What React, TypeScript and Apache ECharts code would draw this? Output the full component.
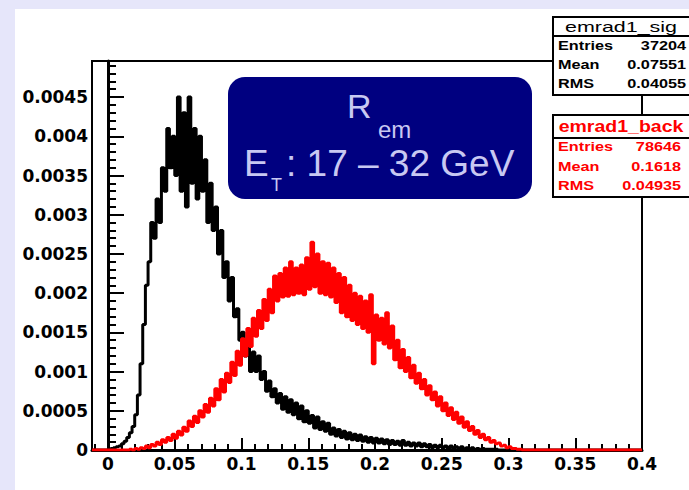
import React, { useEffect, useRef } from "react";
import * as echarts from "echarts";

// ---- histogram binning (left edges of bins) ----
const BIN_START = -0.012;
const BIN_WIDTH = 0.002;
const X_MIN = -0.012;
const X_MAX = 0.4;
const Y_MAX = 0.00496;

// emrad1_sig (black), one value per bin
const sigValues = [
  0, 0, 0, 0, 0, 0, 0.00001, 0.00002, 0.00003, 0.00004,
  0.00005, 0.00008, 0.00011, 0.00016, 0.00022, 0.0003, 0.00045, 0.0007, 0.0011, 0.0016,
  0.0021, 0.0024, 0.0029, 0.0027, 0.0032, 0.0029, 0.0036, 0.0033, 0.0041, 0.0036,
  0.004, 0.0035, 0.0045, 0.0033, 0.0043, 0.0031, 0.0045, 0.0034, 0.0041, 0.0032,
  0.004, 0.0033, 0.0037, 0.0029, 0.0034, 0.0028, 0.0031, 0.0025, 0.0028, 0.0022,
  0.0024, 0.0019, 0.0022, 0.0017, 0.0018, 0.0014, 0.0015, 0.0012, 0.0013, 0.001,
  0.00125, 0.001, 0.0012, 0.0009, 0.001, 0.00075, 0.00088, 0.00068, 0.00078, 0.0006,
  0.00072, 0.00052, 0.00068, 0.00048, 0.00064, 0.00045, 0.0006, 0.0004, 0.00056, 0.00036,
  0.0005, 0.00034, 0.00044, 0.00028, 0.00042, 0.00026, 0.00036, 0.00024, 0.00034, 0.0002,
  0.00028, 0.00018, 0.00026, 0.00016, 0.00024, 0.00014, 0.00022, 0.00013, 0.0002, 0.00012,
  0.00019, 0.00011, 0.00017, 0.0001, 0.00016, 0.00009, 0.00015, 0.00009, 0.00014, 0.00008,
  0.00013, 0.00007, 0.00012, 0.00007, 0.00011, 0.00006, 0.00012, 0.00006, 0.0001, 0.00005,
  0.00009, 0.00005, 0.00009, 0.00004, 0.00008, 0.00004, 0.00007, 0.00003, 0.00006, 0.00003,
  0.00006, 0.00003, 0.00005, 0.00002, 0.00005, 0.00002, 0.00004, 0.00002, 0.00004, 0.00001,
  0.00003, 0.00001, 0.00003, 0.00001, 0.00002, 0.00001, 0.00002, 0.00001, 0.00001, 0.00001,
  0.00001, 0.00001, 0, 0, 0, 0, 0, 0, 0, 0,
  0, 0, 0, 0, 0, 0, 0, 0, 0, 0,
  0, 0, 0, 0, 0, 0, 0, 0, 0, 0,
  0, 0, 0, 0, 0, 0, 0, 0, 0, 0,
  0, 0, 0, 0, 0, 0, 0, 0, 0, 0,
  0, 0, 0, 0, 0, 0,
];

// emrad1_back (red), one value per bin
const backValues = [
  0, 0, 0, 0, 0, 0, 0, 0, 0, 0,
  0, 0, 0, 0, 0.00001, 0, 0.00002, 0.00001, 0.00003, 0.00002,
  0.00005, 0.00003, 0.00007, 0.00005, 0.0001, 0.00007, 0.00013, 0.0001, 0.00016, 0.00012,
  0.0002, 0.00015, 0.00024, 0.00019, 0.00029, 0.00024, 0.00037, 0.0003, 0.00043, 0.00035,
  0.0005, 0.00042, 0.00058, 0.00048, 0.00066, 0.00056, 0.00078, 0.00064, 0.0009, 0.00074,
  0.00098, 0.00086, 0.00112, 0.00095, 0.00126, 0.00108, 0.00142, 0.0012, 0.00155, 0.00132,
  0.00168, 0.00145, 0.00178, 0.00155, 0.00192, 0.00165, 0.00205, 0.00175, 0.00222, 0.0019,
  0.00225, 0.00195, 0.00232, 0.00196, 0.0024, 0.00198, 0.00232, 0.002, 0.00236, 0.00198,
  0.00245, 0.00205, 0.00265, 0.00208, 0.0025, 0.002, 0.0024, 0.00198, 0.00238, 0.00195,
  0.00232, 0.00188, 0.00225, 0.00175, 0.0022, 0.0017, 0.0021, 0.00165, 0.002, 0.0016,
  0.00196, 0.00155, 0.0019, 0.0015, 0.00198, 0.0011, 0.00172, 0.0014, 0.00168, 0.00135,
  0.00175, 0.0013, 0.00158, 0.00115, 0.0014, 0.00105, 0.00128, 0.001, 0.00118, 0.00092,
  0.00108, 0.00085, 0.00098, 0.00078, 0.0009, 0.0007, 0.00082, 0.00064, 0.00074, 0.00056,
  0.00068, 0.0005, 0.0006, 0.00044, 0.00054, 0.00039, 0.00048, 0.00034, 0.00042, 0.00029,
  0.00036, 0.00025, 0.0003, 0.0002, 0.00025, 0.00016, 0.0002, 0.00013, 0.00016, 0.0001,
  0.00012, 0.00008, 0.00009, 0.00005, 0.00006, 0.00003, 0.00004, 0.00002, 0.00002, 0.00001,
  0.00001, 0, 0, 0, 0, 0, 0, 0, 0, 0,
  0, 0, 0, 0, 0, 0, 0, 0, 0, 0,
  0, 0, 0, 0, 0, 0, 0, 0, 0, 0,
  0, 0, 0, 0, 0, 0, 0, 0, 0, 0,
  0, 0, 0, 0, 0, 0,
];

const xMajorTicks = [0, 0.05, 0.1, 0.15, 0.2, 0.25, 0.3, 0.35, 0.4];
const xMinorTicks = [
  -0.01, 0.01, 0.02, 0.03, 0.04, 0.06, 0.07, 0.08, 0.09, 0.11, 0.12, 0.13, 0.14,
  0.16, 0.17, 0.18, 0.19, 0.21, 0.22, 0.23, 0.24, 0.26, 0.27, 0.28, 0.29,
  0.31, 0.32, 0.33, 0.34, 0.36, 0.37, 0.38, 0.39,
];

const sigTitle = "emrad1_sig";
const sigStats = [
  ["Entries", "37204"],
  ["Mean", "0.07551"],
  ["RMS", "0.04055"],
];
const backTitle = "emrad1_back";
const backStats = [
  ["Entries", "78646"],
  ["Mean", "0.1618"],
  ["RMS", "0.04935"],
];

const toSteps = (vals: number[]) => {
  const pts: number[][] = vals.map((v, i) => [BIN_START + i * BIN_WIDTH, v]);
  pts.push([X_MAX, vals[vals.length - 1]]);
  return pts;
};

const NUM_FONT = "DejaVu Sans";
const TXT_FONT = "Liberation Sans";
const LABEL_COLOR = "#c8c8f2";

function statBox(
  top: number,
  height: number,
  sep: number,
  title: string,
  rows: string[][],
  color: string,
  rowYs: number[],
  titleY: number,
  valueRight: number,
  titleBold: boolean,
  titleSize: number,
  titleScale: number
): any[] {
  const els: any[] = [
    {
      type: "rect",
      z: 100,
      shape: { x: 553, y: top, width: 150, height },
      style: { fill: "#fff", stroke: "#000", lineWidth: 2 },
    },
    {
      type: "line",
      z: 101,
      shape: { x1: 553, y1: sep, x2: 700, y2: sep },
      style: { stroke: "#000", lineWidth: 2 },
    },
    {
      type: "text",
      z: 102,
      x: 621,
      y: titleY,
      scaleX: titleScale,
      style: {
        text: title,
        fill: color,
        fontFamily: TXT_FONT,
        fontSize: titleSize,
        fontWeight: titleBold ? "bold" : "normal",
        textAlign: "center",
        textVerticalAlign: "middle",
      },
    },
  ];
  rows.forEach((r, i) => {
    els.push({
      type: "text",
      z: 102,
      x: 558,
      y: rowYs[i],
      scaleX: 1.3,
      style: {
        text: r[0],
        fill: color,
        fontFamily: TXT_FONT,
        fontSize: 12.5,
        fontWeight: "bold",
        textAlign: "left",
        textVerticalAlign: "middle",
      },
    });
    els.push({
      type: "text",
      z: 102,
      x: valueRight,
      y: rowYs[i],
      scaleX: 1.3,
      style: {
        text: r[1],
        fill: color,
        fontFamily: TXT_FONT,
        fontSize: 12.5,
        fontWeight: "bold",
        textAlign: "right",
        textVerticalAlign: "middle",
      },
    });
  });
  return els;
}

export default function App() {
  const ref = useRef<HTMLDivElement>(null);

  useEffect(() => {
    if (!ref.current) return;
    const chart = echarts.init(ref.current, null, { renderer: "svg" });

    const fmtX = (v: number) => String(+Number(v).toFixed(2));
    const fmtY = (v: number) => String(+Number(v).toFixed(4));

    const option: any = {
      animation: false,
      backgroundColor: "#ffffff",
      grid: {
        left: 92,
        right: 47,
        top: 61,
        bottom: 40,
        show: true,
        borderColor: "#000",
        borderWidth: 2,
        backgroundColor: "transparent",
      },
      xAxis: [
        {
          type: "value",
          min: X_MIN,
          max: X_MAX,
          position: "bottom",
          axisLine: { show: true, onZero: false, lineStyle: { color: "#000", width: 3 } },
          axisTick: {
            show: true,
            inside: true,
            length: 12,
            customValues: xMajorTicks,
            lineStyle: { color: "#000", width: 2 },
          },
          axisLabel: {
            customValues: xMajorTicks,
            formatter: fmtX,
            fontFamily: NUM_FONT,
            fontWeight: "bold",
            fontSize: 17,
            color: "#000",
            margin: 5,
          },
          splitLine: { show: false },
        },
        {
          type: "value",
          min: X_MIN,
          max: X_MAX,
          position: "bottom",
          axisLine: { show: false, onZero: false },
          axisTick: {
            show: true,
            inside: true,
            length: 6,
            customValues: xMinorTicks,
            lineStyle: { color: "#000", width: 2 },
          },
          axisLabel: { show: false },
          splitLine: { show: false },
        },
      ],
      yAxis: {
        type: "value",
        min: 0,
        max: Y_MAX,
        interval: 0.0005,
        axisLine: { show: true, lineStyle: { color: "#000", width: 3 } },
        axisTick: { show: true, inside: true, length: 16, lineStyle: { color: "#000", width: 2 } },
        minorTick: { show: true, splitNumber: 5, length: 8, lineStyle: { color: "#000", width: 2 } },
        axisLabel: {
          showMaxLabel: false,
          formatter: fmtY,
          fontFamily: NUM_FONT,
          fontWeight: "bold",
          fontSize: 17,
          color: "#000",
          margin: 4,
        },
        splitLine: { show: false },
        minorSplitLine: { show: false },
      },
      series: [
        {
          name: "emrad1_sig",
          type: "line",
          step: "end",
          xAxisIndex: 0,
          yAxisIndex: 0,
          data: toSteps(sigValues),
          symbol: "none",
          lineStyle: { color: "#000", width: 3 },
          z: 3,
        },
        {
          name: "emrad1_back",
          type: "line",
          step: "end",
          xAxisIndex: 0,
          yAxisIndex: 0,
          data: toSteps(backValues),
          symbol: "none",
          lineStyle: { color: "#ff0000", width: 3 },
          z: 4,
        },
      ],
      graphic: [
        { type: "rect", z: 0, shape: { x: 0, y: 0, width: 689, height: 9 }, style: { fill: "#e6e6fa" } },
        { type: "rect", z: 0, shape: { x: 0, y: 0, width: 15, height: 490 }, style: { fill: "#e6e6fa" } },
        {
          type: "rect",
          z: 50,
          shape: { x: 228, y: 77, width: 304, height: 122, r: 17 },
          style: { fill: "#000080" },
        },
        {
          type: "text",
          z: 51,
          x: 347,
          y: 106,
          style: {
            text: "R",
            fill: LABEL_COLOR,
            fontFamily: TXT_FONT,
            fontSize: 34,
            textAlign: "left",
            textVerticalAlign: "middle",
          },
        },
        {
          type: "text",
          z: 51,
          x: 378,
          y: 129,
          style: {
            text: "em",
            fill: LABEL_COLOR,
            fontFamily: TXT_FONT,
            fontSize: 24,
            textAlign: "left",
            textVerticalAlign: "middle",
          },
        },
        {
          type: "text",
          z: 51,
          x: 244,
          y: 163,
          style: {
            text: "E",
            fill: LABEL_COLOR,
            fontFamily: TXT_FONT,
            fontSize: 37,
            textAlign: "left",
            textVerticalAlign: "middle",
          },
        },
        {
          type: "text",
          z: 51,
          x: 271,
          y: 185,
          style: {
            text: "T",
            fill: LABEL_COLOR,
            fontFamily: TXT_FONT,
            fontSize: 18,
            textAlign: "left",
            textVerticalAlign: "middle",
          },
        },
        {
          type: "text",
          z: 51,
          x: 286,
          y: 163,
          style: {
            text: ": 17 \u2013 32 GeV",
            fill: LABEL_COLOR,
            fontFamily: TXT_FONT,
            fontSize: 37,
            textAlign: "left",
            textVerticalAlign: "middle",
          },
        },
        ...statBox(17, 78, 36, sigTitle, sigStats, "#000", [46, 65, 84], 27, 686, false, 15, 1.43),
        ...statBox(115, 82, 138, backTitle, backStats, "#ff0000", [147, 167, 186], 127, 681, true, 16, 1.22),
      ],
    };

    chart.setOption(option);
    return () => chart.dispose();
  }, []);

  return (
    <div
      ref={ref}
      style={{ position: "absolute", left: 0, top: 0, width: 689, height: 490 }}
    />
  );
}
